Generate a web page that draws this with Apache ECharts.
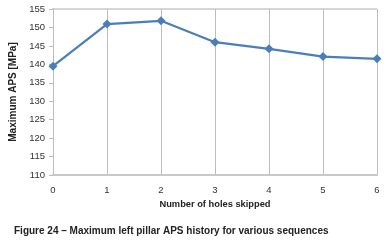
<!DOCTYPE html>
<html><head><meta charset="utf-8">
<script src="https://cdn.jsdelivr.net/npm/echarts@6/dist/echarts.min.js"></script>
<style>html,body{margin:0;padding:0;background:#fff}#c{width:389px;height:244px}</style>
</head><body><div id="c"></div>
<script>
const categories = ['0','1','2','3','4','5','6'];
const apsValues = [139.5, 150.9, 151.8, 146.0, 144.2, 142.1, 141.5];
const yTicks = [110,115,120,125,130,135,140,145,150,155];
const chart = echarts.init(document.getElementById('c'));
chart.setOption({
  animation:false,
  backgroundColor:'#fff',
  title:{text:'Figure 24 – Maximum left pillar APS history for various sequences',left:9,top:221,
    textStyle:{fontFamily:'Liberation Sans',fontSize:10,fontWeight:'bold',color:'#222'}},
  grid:{left:52,right:12,top:9,bottom:69,containLabel:false},
  xAxis:{type:'category',data:categories,boundaryGap:false,
    name:'Number of holes skipped',nameLocation:'middle',nameGap:25,
    nameTextStyle:{fontFamily:'Liberation Sans',fontSize:9.3,fontWeight:'bold',color:'#222'},
    axisLine:{lineStyle:{color:'#c8c8c8',width:2}},axisTick:{show:false},
    axisLabel:{fontFamily:'Liberation Sans',fontSize:9.5,color:'#333',margin:10},
    splitLine:{show:true,lineStyle:{color:'#bdbdbd',width:1}}},
  yAxis:{type:'value',min:110,max:155,interval:5,
    name:'Maximum APS [MPa]',nameLocation:'middle',nameGap:35,
    nameTextStyle:{fontFamily:'Liberation Sans',fontSize:10,fontWeight:'bold',color:'#222'},
    axisLine:{show:true,lineStyle:{color:'#bdbdbd'}},
    axisTick:{show:true,length:4,lineStyle:{color:'#bdbdbd'}},
    axisLabel:{fontFamily:'Liberation Sans',fontSize:9.5,color:'#333',margin:8,
      formatter:v=>yTicks.includes(v)?String(v):''},
    splitLine:{show:false}},
  series:[{type:'line',data:apsValues,symbol:'diamond',symbolSize:9,
    lineStyle:{color:'#4a7ebb',width:2.2},itemStyle:{color:'#4a7ebb'}}],
  graphic:[
    {type:'line',shape:{x1:52,y1:9,x2:377,y2:9},style:{stroke:'#c8c8c8',lineWidth:1.5}},
    {type:'line',shape:{x1:377.5,y1:9,x2:377.5,y2:175},style:{stroke:'#555',lineWidth:1}}
  ]
});
</script></body></html>
